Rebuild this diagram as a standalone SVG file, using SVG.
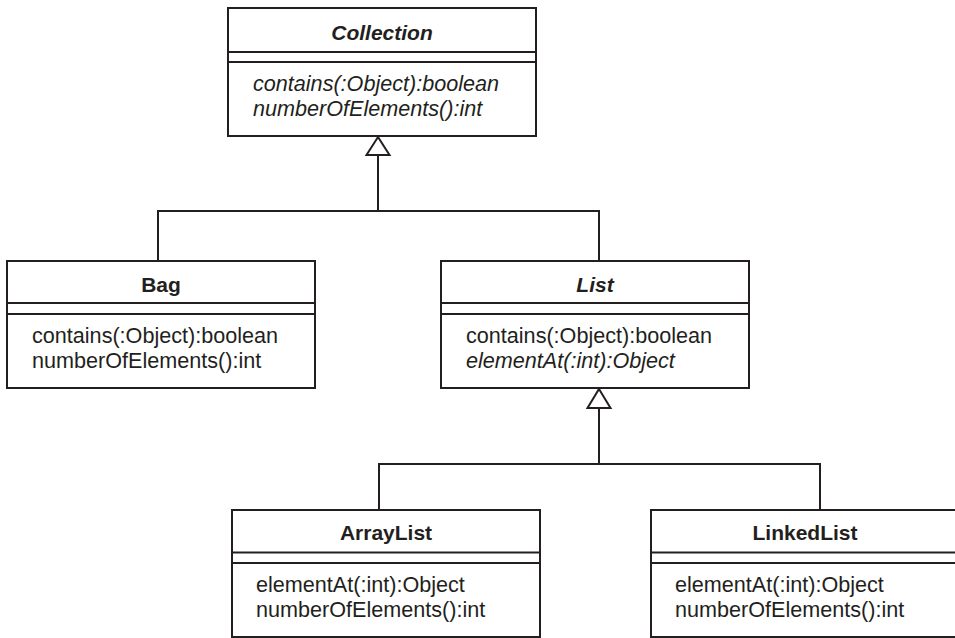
<svg xmlns="http://www.w3.org/2000/svg" width="955" height="638" viewBox="0 0 955 638">
<style>
.box{fill:#fff;stroke:#231f20;stroke-width:2}
.sep{stroke:#231f20;stroke-width:2}
.title{font-family:"Liberation Sans",Arial,sans-serif;font-size:21px;font-weight:bold;fill:#231f20;text-anchor:middle}
.op{font-family:"Liberation Sans",Arial,sans-serif;font-size:21.6px;fill:#231f20}
.it{font-style:italic}
.conn{fill:none;stroke:#231f20;stroke-width:2}
.tri{fill:#fff;stroke:#231f20;stroke-width:2;stroke-linejoin:miter}
</style>
<rect width="955" height="638" fill="#fff"/>
<g id="connectors">
<polyline class="conn" points="378,155 378,211"/>
<polyline class="conn" points="158,261 158,211 599,211 599,261"/>
<polygon class="tri" points="378,137 389.5,155 366.5,155"/>
<polyline class="conn" points="599,408 599,464"/>
<polyline class="conn" points="379,510 379,464 820,464 820,510"/>
<polygon class="tri" points="599,389 610.5,408 587.5,408"/>
</g>
<g id="Collection">
<rect class="box" x="228" y="8" width="308" height="128"/>
<line class="sep" x1="228" y1="52" x2="536" y2="52"/>
<line class="sep" x1="228" y1="62" x2="536" y2="62"/>
<text class="title it" x="382" y="40">Collection</text>
<text class="op it" x="253" y="91">contains(:Object):boolean</text>
<text class="op it" x="253" y="116">numberOfElements():int</text>
</g>
<g id="Bag">
<rect class="box" x="7" y="261" width="308" height="127"/>
<line class="sep" x1="7" y1="303" x2="315" y2="303"/>
<line class="sep" x1="7" y1="314" x2="315" y2="314"/>
<text class="title" x="161" y="292">Bag</text>
<text class="op" x="32" y="343">contains(:Object):boolean</text>
<text class="op" x="32" y="368">numberOfElements():int</text>
</g>
<g id="List">
<rect class="box" x="441" y="261" width="308" height="127"/>
<line class="sep" x1="441" y1="303" x2="749" y2="303"/>
<line class="sep" x1="441" y1="314" x2="749" y2="314"/>
<text class="title it" x="595" y="292">List</text>
<text class="op" x="466" y="343">contains(:Object):boolean</text>
<text class="op it" x="466" y="368">elementAt(:int):Object</text>
</g>
<g id="ArrayList">
<rect class="box" x="232" y="510" width="308" height="127"/>
<line class="sep" x1="232" y1="552.5" x2="540" y2="552.5"/>
<line class="sep" x1="232" y1="563" x2="540" y2="563"/>
<text class="title" x="386" y="540">ArrayList</text>
<text class="op" x="256" y="592">elementAt(:int):Object</text>
<text class="op" x="256" y="617">numberOfElements():int</text>
</g>
<g id="LinkedList">
<rect class="box" x="651" y="510" width="308" height="127"/>
<line class="sep" x1="651" y1="552.5" x2="959" y2="552.5"/>
<line class="sep" x1="651" y1="563" x2="959" y2="563"/>
<text class="title" x="805" y="540">LinkedList</text>
<text class="op" x="675" y="592">elementAt(:int):Object</text>
<text class="op" x="675" y="617">numberOfElements():int</text>
</g>
</svg>
